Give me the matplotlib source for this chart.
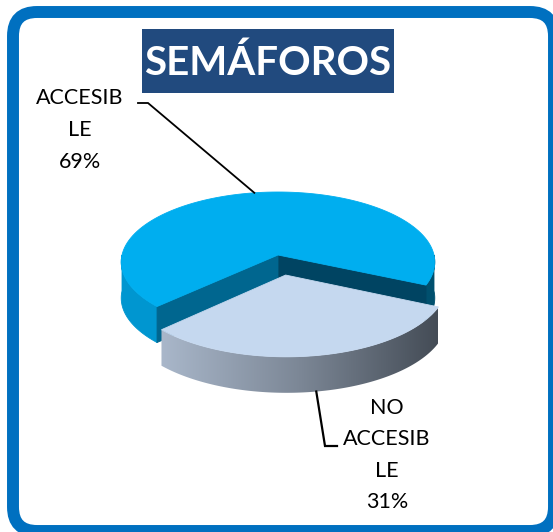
import numpy as np
import matplotlib
matplotlib.use("Agg")
import matplotlib.pyplot as plt
from matplotlib.patches import Polygon, FancyBboxPatch, Rectangle
from matplotlib.colors import LinearSegmentedColormap

# ---------------- data ----------------
categories = ["ACCESIBLE", "NO ACCESIBLE"]
percent = [69, 31]
label_text = ["ACCESIB\nLE\n69%", "NO\nACCESIB\nLE\n31%"]
title = "SEMÁFOROS"
explode = [0.0, 0.285]

# ---------------- styles ----------------
top_colors = ["#00AEEF", "#C5D8EF"]
W, H = 553, 532
fig = plt.figure(figsize=(W / 100, H / 100), dpi=100)
ax = fig.add_axes([0, 0, 1, 1])
ax.set_xlim(0, W)
ax.set_ylim(H, 0)
ax.axis("off")

# frame
frame = FancyBboxPatch((13, 12), 541, 519, boxstyle="round,pad=0,rounding_size=24",
                       linewidth=8.6, edgecolor="#0070C0", facecolor="white", zorder=0)
ax.add_patch(frame)

# title
ax.add_patch(Rectangle((142, 29), 252, 64, facecolor="#214A7E", edgecolor="none", zorder=5))
ax.text(268, 63, title, color="white", fontsize=29, fontweight="bold", family="Lato",
        ha="center", va="center", zorder=6)

# ---------------- 3D pie projection ----------------
CX, CY, A, B, P, DEPTH = 278, 255, 156, 69.3, 0.10, 36
START = -24.6


def proj(u, v, z=0.0):
    f = 1 + P * v
    return CX + A * u / f, CY - B * v / f + DEPTH * z


def arc(t0, t1, eu, ev, z, n=120):
    th = np.radians(np.linspace(t0, t1, n))
    x, y = proj(eu + np.cos(th), ev + np.sin(th), z)
    return np.column_stack([x, y])


total = float(sum(percent))
angles = []
a = START
for p in percent:
    span = 360.0 * p / total
    angles.append((a, a + span))
    a += span


def poly(pts, color, z):
    ax.add_patch(Polygon(pts, closed=True, facecolor=color, edgecolor=color,
                         linewidth=0.6, zorder=z))


anchors = []
for i, ((a0, a1), e) in enumerate(zip(angles, explode)):
    mid = np.radians((a0 + a1) / 2)
    eu, ev = e * np.cos(mid), e * np.sin(mid)
    base_z = 10 + 10 * i
    # visible outer side segments (front half: 180..360 deg)
    segs = []
    for k in (-1, 0, 1):
        lo, hi = 180 + 360 * k, 360 + 360 * k
        s0, s1 = max(a0, lo), min(a1, hi)
        if s1 > s0:
            segs.append((s0, s1))
    for (s0, s1) in segs:
        topa = arc(s0, s1, eu, ev, 0)
        bota = arc(s0, s1, eu, ev, 1)[::-1]
        pts = np.vstack([topa, bota])
        if i == 0:
            col = "#0096D0" if np.cos(np.radians((s0 + s1) / 2)) < 0 else "#00506E"
            poly(pts, col, base_z)
        else:
            patch = Polygon(pts, closed=True, facecolor="none", edgecolor="none", zorder=base_z)
            ax.add_patch(patch)
            x0, x1 = pts[:, 0].min(), pts[:, 0].max()
            y0, y1 = pts[:, 1].min(), pts[:, 1].max()
            cmap = LinearSegmentedColormap.from_list("side", ["#A9B7CA", "#7C8796", "#444C56"])
            grad = np.linspace(0, 1, 256).reshape(1, -1)
            im = ax.imshow(grad, cmap=cmap, extent=(x0, x1, y1, y0), aspect="auto",
                           zorder=base_z, interpolation="bilinear")
            im.set_clip_path(patch)
    # cut faces (only for the big slice; hidden for the exploded one)
    vt = proj(eu, ev, 0)
    vb = proj(eu, ev, 1)
    if i == 0:
        for ang, col in ((a0, "#004462"), (a1, "#00668F")):
            c = np.radians(ang)
            ct = proj(eu + np.cos(c), ev + np.sin(c), 0)
            cb = proj(eu + np.cos(c), ev + np.sin(c), 1)
            poly([vt, ct, cb, vb], col, base_z + 1)
    # top face
    pts = np.vstack([[vt], arc(a0, a1, eu, ev, 0)])
    poly(pts, top_colors[i], base_z + 2)
    anchors.append((mid, eu, ev))

# ---------------- labels & leader lines ----------------
mid, eu, ev = anchors[0]
rim = proj(eu + np.cos(mid), ev + np.sin(mid), 0)
ax.plot([138, 148, rim[0]], [103, 103, rim[1]], color="black", lw=1.3, zorder=40,
        solid_joinstyle="miter")
ax.text(80, 130, label_text[0], fontsize=15.5, family="Lato", ha="center", va="center",
        linespacing=1.72, color="black", zorder=41)

mid, eu, ev = anchors[1]
rim = proj(eu + np.cos(mid), ev + np.sin(mid), 1)
ax.plot([rim[0], 325, 337], [rim[1], 446, 446], color="black", lw=1.6, zorder=40,
        solid_joinstyle="miter")
ax.text(387, 455, label_text[1], fontsize=15.5, family="Lato", ha="center", va="center",
        linespacing=1.72, color="black", zorder=41)

ax.set_xlim(0, W)
ax.set_ylim(H, 0)
fig.savefig("out.png", dpi=100)
